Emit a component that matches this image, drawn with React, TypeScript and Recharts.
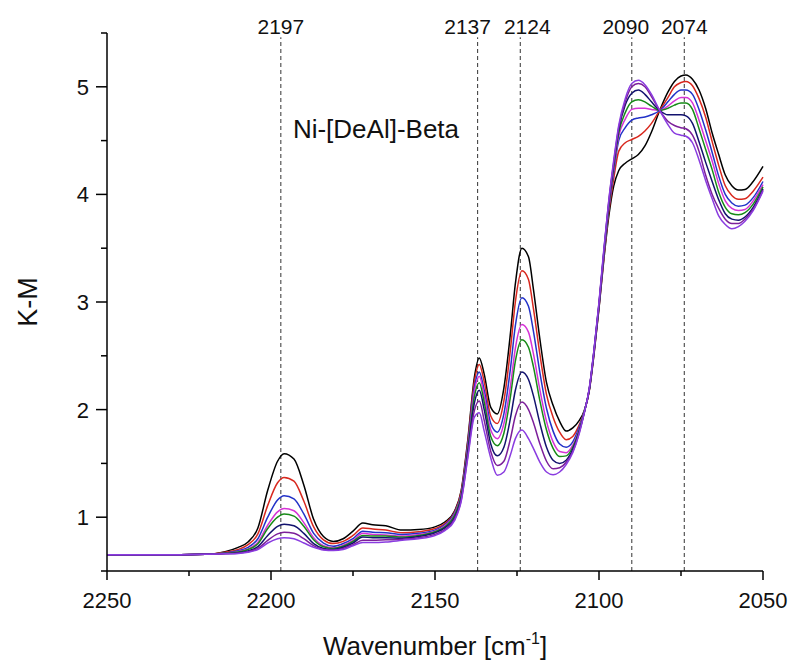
import React from "react";
import { LineChart, Line, XAxis, YAxis, ReferenceLine, ReferenceDot, Label } from "recharts";

// wavenumber grid (cm-1)
const wavenumbers = [
  2250, 2235, 2220, 2214, 2210, 2207, 2204, 2201, 2198, 2196, 2193, 2190, 2187, 2184, 2181,
  2178, 2175, 2172, 2169, 2165, 2160, 2155, 2150, 2147, 2144,
  2142, 2140, 2138, 2136.5, 2135, 2133, 2131, 2129, 2127, 2125.5, 2123.5, 2121.5, 2120, 2118, 2116, 2114, 2112, 2110, 2108, 2106, 2104.5,
  2103, 2101.5, 2100, 2098.5, 2097, 2095.5, 2094, 2092, 2090, 2088, 2086, 2084, 2081.5,
  2079, 2077, 2075, 2073.5, 2071.5, 2069.5, 2067.5, 2065.5, 2063.5, 2061.5, 2059.5, 2057.5, 2055.5, 2053, 2050,
];

const black = [
  0.65, 0.65, 0.655, 0.68, 0.72, 0.77, 0.9, 1.25, 1.52, 1.59, 1.54, 1.3, 0.98, 0.82, 0.775,
  0.8, 0.87, 0.945, 0.93, 0.92, 0.88, 0.885, 0.91, 0.955, 1.06,
  1.25, 1.72, 2.3, 2.48, 2.33, 2.02, 1.96, 2.2, 2.71, 3.17, 3.5, 3.42, 3.12, 2.65, 2.25, 2.04, 1.89, 1.8, 1.83, 1.9, 1.99,
  2.17, 2.52, 2.94, 3.4, 3.8, 4.08, 4.22, 4.29, 4.33, 4.37, 4.45, 4.58, 4.78,
  4.95, 5.05, 5.1, 5.11, 5.07, 4.97, 4.8, 4.57, 4.37, 4.18, 4.08, 4.04, 4.045, 4.12, 4.26,
];
const red = [
  0.65, 0.65, 0.655, 0.675, 0.7, 0.745, 0.845, 1.11, 1.32, 1.37, 1.335, 1.15, 0.91, 0.79, 0.755,
  0.775, 0.83, 0.9, 0.89, 0.88, 0.855, 0.865, 0.895, 0.94, 1.05,
  1.24, 1.7, 2.26, 2.42, 2.26, 1.94, 1.87, 2.08, 2.56, 3.0, 3.29, 3.21, 2.94, 2.51, 2.14, 1.93, 1.79, 1.72, 1.75, 1.86, 1.98,
  2.17, 2.53, 2.95, 3.42, 3.84, 4.15, 4.4, 4.48, 4.51, 4.54, 4.59, 4.66, 4.78,
  4.9, 5.0, 5.04, 5.05, 5.01, 4.89, 4.72, 4.49, 4.27, 4.08, 3.99, 3.955, 3.96, 4.03, 4.16,
];
const blue = [
  0.65, 0.65, 0.655, 0.667, 0.688, 0.72, 0.8, 1.0, 1.16, 1.2, 1.17, 1.03, 0.85, 0.76, 0.73,
  0.755, 0.8, 0.87, 0.86, 0.855, 0.84, 0.85, 0.88, 0.93, 1.04,
  1.22, 1.67, 2.21, 2.35, 2.18, 1.87, 1.79, 1.96, 2.38, 2.78, 3.04, 2.96, 2.73, 2.34, 2.01, 1.8, 1.68, 1.65, 1.7, 1.84, 1.98,
  2.18, 2.54, 2.96, 3.44, 3.87, 4.21, 4.5, 4.62, 4.69, 4.71, 4.72, 4.74, 4.78,
  4.86, 4.93, 4.97, 4.97, 4.93, 4.79, 4.6, 4.39, 4.17, 4.0, 3.92, 3.89, 3.9, 3.97, 4.12,
];
const magenta = [
  0.65, 0.65, 0.655, 0.665, 0.68, 0.706, 0.766, 0.925, 1.05, 1.08, 1.06, 0.95, 0.81, 0.735, 0.715,
  0.74, 0.785, 0.85, 0.84, 0.835, 0.825, 0.84, 0.87, 0.92, 1.03,
  1.21, 1.64, 2.17, 2.31, 2.13, 1.81, 1.73, 1.87, 2.22, 2.57, 2.79, 2.72, 2.52, 2.18, 1.89, 1.7, 1.61, 1.6, 1.67, 1.82, 1.98,
  2.18, 2.54, 2.97, 3.45, 3.89, 4.24, 4.54, 4.7, 4.79, 4.8, 4.8, 4.79, 4.78,
  4.82, 4.87, 4.9, 4.9, 4.85, 4.69, 4.5, 4.31, 4.1, 3.94, 3.87, 3.85, 3.86, 3.94, 4.09,
];
const green = [
  0.65, 0.65, 0.655, 0.664, 0.677, 0.7, 0.753, 0.895, 1.0, 1.03, 1.01, 0.915, 0.79, 0.725, 0.71,
  0.73, 0.775, 0.83, 0.825, 0.825, 0.815, 0.83, 0.865, 0.91, 1.02,
  1.2, 1.62, 2.12, 2.25, 2.07, 1.75, 1.665, 1.78, 2.12, 2.45, 2.65, 2.58, 2.4, 2.08, 1.81, 1.64, 1.565, 1.57, 1.65, 1.81, 1.98,
  2.18, 2.55, 2.97, 3.46, 3.9, 4.26, 4.57, 4.76, 4.86, 4.88, 4.86, 4.82, 4.78,
  4.8, 4.83, 4.85, 4.85, 4.79, 4.61, 4.42, 4.23, 4.02, 3.88, 3.82, 3.81, 3.83, 3.91, 4.07,
];
const navy = [
  0.65, 0.65, 0.655, 0.662, 0.67, 0.687, 0.727, 0.83, 0.915, 0.935, 0.92, 0.85, 0.755, 0.71, 0.7,
  0.72, 0.76, 0.815, 0.81, 0.81, 0.805, 0.82, 0.855, 0.9, 1.0,
  1.18, 1.6, 2.06, 2.18, 2.0, 1.68, 1.57, 1.65, 1.92, 2.18, 2.35, 2.28, 2.13, 1.87, 1.65, 1.53, 1.5, 1.53, 1.63, 1.8, 1.97,
  2.18, 2.55, 2.98, 3.47, 3.92, 4.28, 4.6, 4.83, 4.94, 4.97, 4.93, 4.86, 4.78,
  4.74, 4.74, 4.74, 4.73, 4.66, 4.49, 4.3, 4.12, 3.95, 3.82, 3.77, 3.76, 3.79, 3.88, 4.05,
];
const purple = [
  0.65, 0.65, 0.655, 0.661, 0.665, 0.68, 0.71, 0.785, 0.845, 0.86, 0.85, 0.8, 0.735, 0.7, 0.695,
  0.71, 0.745, 0.785, 0.785, 0.79, 0.795, 0.81, 0.84, 0.885, 0.985,
  1.16, 1.57, 1.99, 2.08, 1.9, 1.61, 1.48, 1.52, 1.73, 1.94, 2.07, 2.0, 1.88, 1.68, 1.52, 1.45, 1.46, 1.51, 1.61, 1.79, 1.97,
  2.19, 2.56, 2.99, 3.48, 3.94, 4.3, 4.62, 4.86, 5.0, 5.03, 5.0, 4.91, 4.78,
  4.68, 4.64, 4.62, 4.61, 4.55, 4.4, 4.18, 4.0, 3.87, 3.77, 3.73, 3.73, 3.77, 3.86, 4.04,
];
const violet = [
  0.65, 0.65, 0.655, 0.66, 0.663, 0.675, 0.7, 0.76, 0.8, 0.81, 0.8, 0.76, 0.72, 0.695, 0.69,
  0.7, 0.735, 0.765, 0.765, 0.77, 0.785, 0.8, 0.83, 0.875, 0.97,
  1.15, 1.55, 1.93, 1.97, 1.8, 1.55, 1.39, 1.42, 1.58, 1.73, 1.81, 1.73, 1.64, 1.51, 1.42, 1.395, 1.42, 1.49, 1.6, 1.78, 1.97,
  2.19, 2.56, 3.0, 3.5, 3.95, 4.32, 4.64, 4.89, 5.03, 5.06, 5.02, 4.93, 4.78,
  4.65, 4.57, 4.55, 4.54, 4.48, 4.32, 4.13, 3.96, 3.8, 3.72, 3.68, 3.7, 3.75, 3.85, 4.03,
];

const peakMarks = [2197, 2137, 2124, 2090, 2074];
const xTicks = [2250, 2225, 2200, 2175, 2150, 2125, 2100, 2075, 2050];
const yTicks = [0.5, 1, 1.5, 2, 2.5, 3, 3.5, 4, 4.5, 5, 5.5];

// small horizontal nudges so neighbouring peak labels don't collide
const labelNudge: Record<number, number> = { 2197: 0, 2137: -10, 2124: 7, 2090: -6, 2074: 0 };

const series = [
  { key: "s1", values: black, color: "#000000" },
  { key: "s2", values: red, color: "#d8281e" },
  { key: "s3", values: blue, color: "#2232c8" },
  { key: "s4", values: magenta, color: "#d633d6" },
  { key: "s5", values: green, color: "#178a17" },
  { key: "s6", values: navy, color: "#12126e" },
  { key: "s7", values: purple, color: "#7c1f9a" },
  { key: "s8", values: violet, color: "#8a3ce0" },
];

const data = wavenumbers.map((wn, i) => {
  const row: Record<string, number> = { wn };
  series.forEach((s) => {
    row[s.key] = s.values[i];
  });
  return row;
});

const FONT = "'Liberation Sans', Arial, sans-serif";

function XTick(props: any) {
  const { x, y, payload } = props;
  const major = payload.value % 50 === 0;
  return (
    <g>
      <line x1={x} y1={y} x2={x} y2={y + (major ? 9 : 5)} stroke="#000" strokeWidth={1.5} />
      {major && (
        <text x={x} y={y + 37} textAnchor="middle" fontSize={22} fontFamily={FONT} fill="#111">
          {payload.value}
        </text>
      )}
    </g>
  );
}

function YTick(props: any) {
  const { x, y, payload } = props;
  const major = Number.isInteger(payload.value);
  return (
    <g>
      <line x1={x} y1={y} x2={x - (major ? 11 : 6)} y2={y} stroke="#000" strokeWidth={1.5} />
      {major && (
        <text x={x - 18} y={y + 8} textAnchor="end" fontSize={22} fontFamily={FONT} fill="#111">
          {payload.value}
        </text>
      )}
    </g>
  );
}

function XTitle(props: any) {
  const { x, y, width } = props.viewBox;
  return (
    <text x={x + width / 2} y={y + 84} textAnchor="middle" fontSize={26} fontFamily={FONT} fill="#111">
      <tspan>Wavenumber [cm</tspan>
      <tspan fontSize={16} dy={-11}>-1</tspan>
      <tspan dy={11}>]</tspan>
    </text>
  );
}

function YTitle(props: any) {
  const { y, height } = props.viewBox;
  const cx = 37;
  const cy = y + height / 2;
  return (
    <text x={cx} y={cy} transform={`rotate(-90, ${cx}, ${cy})`} textAnchor="middle" fontSize={27} fontFamily={FONT} fill="#111">
      K-M
    </text>
  );
}

function PeakLabel(props: any) {
  const { viewBox, mark } = props;
  const cx = viewBox.x + (viewBox.width || 0) / 2 + (labelNudge[mark] || 0);
  return (
    <text x={cx} y={viewBox.y - 3} textAnchor="middle" fontSize={21} fontFamily={FONT} fill="#111">
      {mark}
    </text>
  );
}

export default function App() {
  return (
    <div style={{ position: "absolute", left: 0, top: 0, width: 791, height: 663, background: "#fff" }}>
      <LineChart width={791} height={663} data={data} margin={{ top: 33, right: 28, bottom: 32, left: 47 }}>
        <XAxis
          dataKey="wn"
          type="number"
          domain={[2050, 2250]}
          reversed
          ticks={xTicks}
          interval={0}
          height={60}
          tickSize={0}
          tickMargin={0}
          tickLine={false}
          axisLine={{ stroke: "#000", strokeWidth: 1.5 }}
          tick={<XTick />}
        >
          <Label content={<XTitle />} />
        </XAxis>
        <YAxis
          type="number"
          domain={[0.5, 5.5]}
          ticks={yTicks}
          interval={0}
          width={60}
          tickSize={0}
          tickMargin={0}
          tickLine={false}
          axisLine={{ stroke: "#000", strokeWidth: 1.5 }}
          tick={<YTick />}
        >
          <Label content={<YTitle />} />
        </YAxis>
        {peakMarks.map((p) => (
          <ReferenceLine
            key={p}
            segment={[{ x: p, y: 0.5 }, { x: p, y: 5.46 }]}
            stroke="#333"
            strokeWidth={1}
            strokeDasharray="4 3"
            label={<PeakLabel mark={p} />}
          />
        ))}
        <ReferenceDot
          x={2168}
          y={4.61}
          r={0}
          fill="none"
          stroke="none"
          label={{ value: "Ni-[DeAl]-Beta", position: "center", fontSize: 26, fontFamily: FONT, fill: "#111" }}
        />
        {series.map((s) => (
          <Line
            key={s.key}
            dataKey={s.key}
            type="monotone"
            stroke={s.color}
            strokeWidth={1.5}
            dot={false}
            isAnimationActive={false}
          />
        ))}
      </LineChart>
    </div>
  );
}
